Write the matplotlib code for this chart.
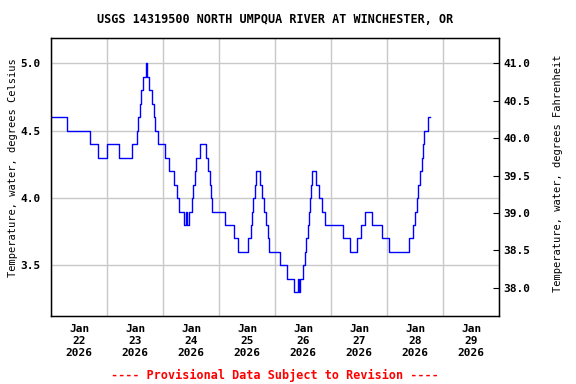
import matplotlib
matplotlib.use("Agg")
import matplotlib.pyplot as plt
import matplotlib.dates as mdates
import pandas as pd

# hours since 2026-01-22 00:00 where the reading changes, and the new value (deg C)
change_hours = [0.0, 6.9, 16.7, 19.9, 24.0, 28.9, 34.7, 36.9, 37.3, 38.1,
                38.6, 39.4, 40.7, 41.0, 42.0, 43.0, 44.0, 44.4, 45.9, 48.9,
                50.6, 52.6, 53.7, 54.9, 57.0, 57.9, 58.3, 59.1, 60.3, 60.9,
                61.7, 62.1, 63.9, 66.3, 67.3, 68.0, 68.6, 69.0, 74.6, 78.4,
                79.9, 84.4, 85.6, 86.0, 86.4, 87.3, 87.7, 89.4, 90.4, 91.3,
                92.1, 92.9, 93.4, 98.1, 101.1, 104.1, 105.8, 106.1, 106.7, 107.9,
                108.9, 109.3, 109.8, 110.4, 111.0, 111.4, 111.9, 113.6, 114.9, 116.1,
                117.4, 125.1, 128.1, 131.1, 132.9, 134.6, 137.6, 141.9, 144.9, 153.4,
                155.1, 156.0, 156.9, 157.3, 158.1, 159.0, 159.4, 159.8, 161.6, 162.4]
temp_c = [4.6, 4.5, 4.4, 4.3, 4.4, 4.3, 4.4, 4.5, 4.6, 4.7,
          4.8, 4.9, 5.0, 4.9, 4.8, 4.7, 4.6, 4.5, 4.4, 4.3,
          4.2, 4.1, 4.0, 3.9, 3.8, 3.9, 3.8, 3.9, 4.0, 4.1,
          4.2, 4.3, 4.4, 4.3, 4.2, 4.1, 4.0, 3.9, 3.8, 3.7,
          3.6, 3.7, 3.8, 3.9, 4.0, 4.1, 4.2, 4.1, 4.0, 3.9,
          3.8, 3.7, 3.6, 3.5, 3.4, 3.3, 3.4, 3.3, 3.4, 3.5,
          3.6, 3.7, 3.8, 3.9, 4.0, 4.1, 4.2, 4.1, 4.0, 3.9,
          3.8, 3.7, 3.6, 3.7, 3.8, 3.9, 3.8, 3.7, 3.6, 3.7,
          3.8, 3.9, 4.0, 4.1, 4.2, 4.3, 4.4, 4.5, 4.6, 4.6]
left_ticks = [3.5, 4.0, 4.5, 5.0]
right_ticks = [38.0, 38.5, 39.0, 39.5, 40.0, 40.5, 41.0]

title = "USGS 14319500 NORTH UMPQUA RIVER AT WINCHESTER, OR"
footer = "---- Provisional Data Subject to Revision ----"

start = pd.Timestamp("2026-01-22")
times = start + pd.to_timedelta(change_hours, unit="h")

plt.rcParams["font.family"] = "DejaVu Sans Mono"
plt.rcParams["font.weight"] = "bold"

fig = plt.figure(figsize=(5.76, 3.84), dpi=100)
ax = fig.add_axes([0.0891, 0.1771, 0.7778, 0.7227])

ax.plot(times, temp_c, drawstyle="steps-post", color="#0000ff", lw=1.0)

ax.set_xlim(start, start + pd.Timedelta(days=8))
ax.set_ylim(3.125, 5.184)

ax.xaxis.set_major_locator(mdates.DayLocator())
ax.xaxis.set_major_formatter(plt.NullFormatter())
ax.xaxis.set_minor_locator(mdates.HourLocator(byhour=12))
ax.xaxis.set_minor_formatter(mdates.DateFormatter("%b\n%d\n%Y"))
ax.tick_params(axis="x", which="both", length=0, labelsize=8, pad=6)
ax.set_yticks(left_ticks)
ax.yaxis.set_major_formatter(plt.FormatStrFormatter("%.1f"))
ax.tick_params(axis="y", length=0, labelsize=8, pad=8)

ax.grid(True, which="major", color="#c8c8c8", lw=1.0)
ax.set_axisbelow(True)
for s in ax.spines.values():
    s.set_linewidth(1.0)

ax.set_ylabel("Temperature, water, degrees Celsius", fontsize=7.5)
ax.yaxis.set_label_coords(-0.075, 0.535)

ax2 = ax.twinx()
lo, hi = ax.get_ylim()
ax2.set_ylim(lo * 1.8 + 32, hi * 1.8 + 32)
ax2.set_yticks(right_ticks)
ax2.yaxis.set_major_formatter(plt.FormatStrFormatter("%.1f"))
ax2.tick_params(axis="y", direction="in", length=4, labelsize=8, pad=3)
ax2.set_ylabel("Temperature, water, degrees Fahrenheit", fontsize=7.5)
ax2.yaxis.set_label_coords(1.12, 0.513)

fig.text(0.4775, 0.95, title, ha="center", va="center", fontsize=8.5)
fig.text(0.4775, 0.022, footer, ha="center", va="center", fontsize=8.5, color="red")

fig.savefig("out.png", dpi=100)
